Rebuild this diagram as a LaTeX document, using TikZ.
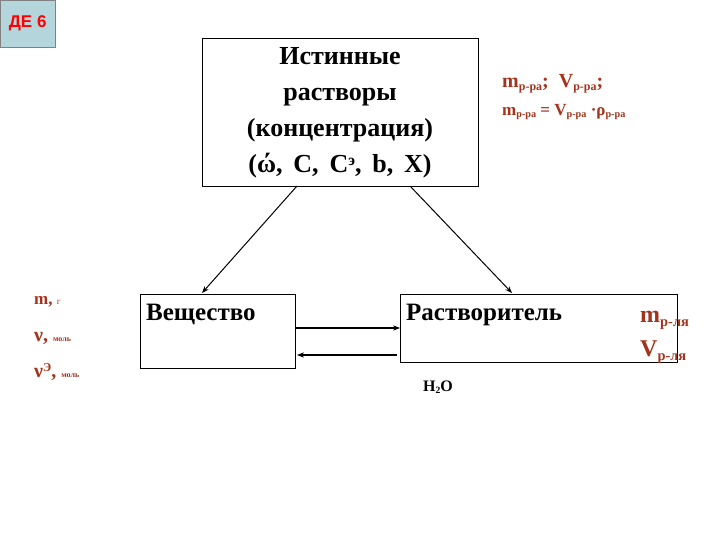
\documentclass[tikz,border=0pt]{standalone}
\usepackage{fontspec}
\setmainfont{Liberation Serif}
\newfontfamily\sansb{Liberation Sans}
\usetikzlibrary{arrows.meta}
\definecolor{brn}{HTML}{A3331C}
\definecolor{lblue}{HTML}{B5D5DD}
\newcommand{\lo}[1]{\raisebox{-0.35ex}{\fontsize{0.6em}{1em}\selectfont #1}}
\newcommand{\hi}[1]{\raisebox{0.6ex}{\fontsize{0.6em}{1em}\selectfont #1}}
\tikzset{box/.style={draw,line width=1pt},
 arr/.style={line width=1.3pt,-{Stealth[length=7pt]}},
 big/.style={font=\bfseries\fontsize{27}{33}\selectfont,align=center},
 brnt/.style={text=brn,font=\bfseries,inner sep=0pt,anchor=west}}
\begin{document}
\begin{tikzpicture}[x=1pt,y=-1pt]
\useasboundingbox (0,0) rectangle (720,540);
\node[draw=gray,fill=lblue,minimum width=55,minimum height=47,anchor=north west,inner sep=0] (de) at (0,0) {\sansb\bfseries\fontsize{17}{20}\selectfont\color{red}ДЕ 6};
\node[box,minimum width=276,minimum height=148,anchor=north west] (top) at (202,38) {};
\node[big,font=\bfseries\fontsize{26}{36}\selectfont] (toptxt) at (340,113) {Истинные\\растворы\\(концентрация)\\(ώ,\, C,\, C\hi{э},\, b,\, X)};
\node[box,minimum width=155,minimum height=74,anchor=north west] (sub) at (140,294) {};
\node[big,anchor=north west,font=\bfseries\fontsize{25}{30}\selectfont,inner sep=0] (subt) at (146,304) {Вещество};
\node[box,minimum width=277,minimum height=68,anchor=north west] (sol) at (400,294) {};
\node[big,anchor=north west,font=\bfseries\fontsize{25}{30}\selectfont,inner sep=0] (solt) at (406,304) {Растворитель};
\coordinate (t1) at (297,186); \coordinate (s1) at (202,293);
\coordinate (t2) at (410,186); \coordinate (s2) at (512,293);
\draw[arr,line width=1pt] (t1) -- (s1);
\draw[arr,line width=1pt] (t2) -- (s2);
\coordinate (a1) at (296,328); \coordinate (b1) at (400,328);
\coordinate (a2) at (397,355); \coordinate (b2) at (297,355);
\draw[arr] (a1) -- (b1);
\draw[arr] (a2) -- (b2);
\node[brnt,font=\bfseries\fontsize{20}{24}\selectfont] (r1) at (502,84) {m\lo{р-ра};\ \ V\lo{р-ра};};
\node[brnt,font=\bfseries\fontsize{17}{20}\selectfont] (r2) at (502,112) {m\lo{р-ра} = V\lo{р-ра} ·ρ\lo{р-ра}};
\node[brnt,font=\bfseries\fontsize{17}{20}\selectfont] (l1) at (34,302) {m, {\normalfont\small г}};
\node[brnt,font=\bfseries\fontsize{20}{20}\selectfont] (l2) at (34,338) {ν, {\footnotesize моль}};
\node[brnt,font=\bfseries\fontsize{20}{20}\selectfont] (l3) at (34,372) {ν\hi{Э}, {\footnotesize моль}};
\node[brnt,font=\bfseries\fontsize{24}{24}\selectfont] (q1) at (640,320) {m\lo{р-ля}};
\node[brnt,font=\bfseries\fontsize{24}{24}\selectfont] (q2) at (640,352) {V\lo{р-ля}};
\node[font=\bfseries\fontsize{16}{16}\selectfont,anchor=west,inner sep=0] (h2o) at (423,387) {H\lo{2}O};
\end{tikzpicture}
\end{document}
